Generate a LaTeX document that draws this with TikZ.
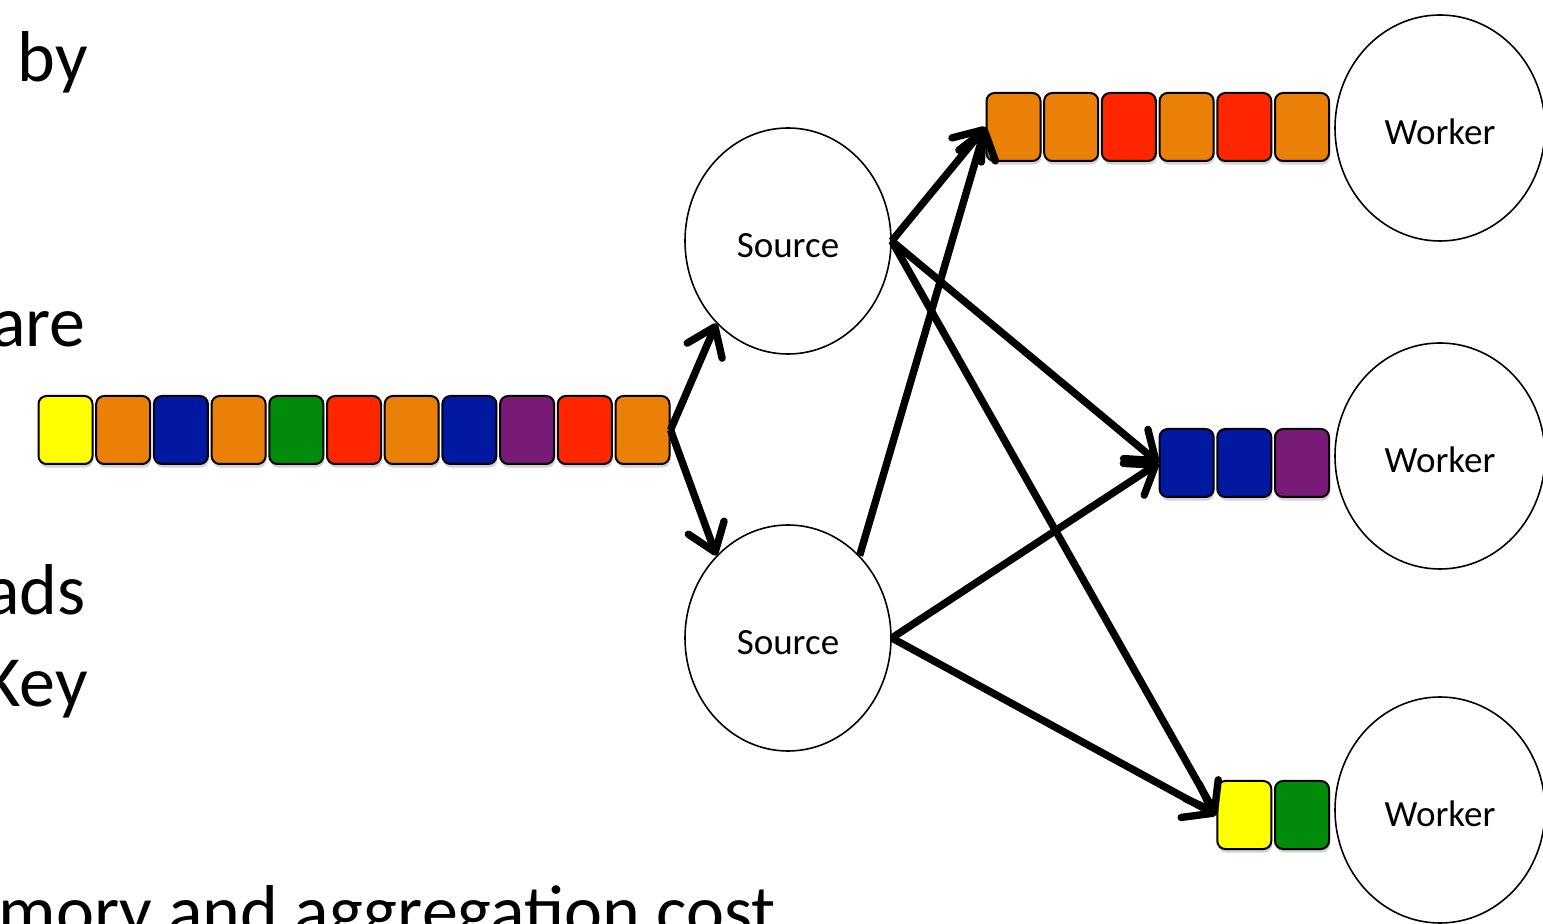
\documentclass[tikz,border=0pt]{standalone}
\usepackage{fontspec}
\setmainfont{Carlito}
\usepackage{tikz}
\usetikzlibrary{arrows.meta,shapes.geometric,shadows}

\definecolor{sqyellow}{HTML}{FFFF00}
\definecolor{sqorange}{HTML}{EA8008}
\definecolor{sqblue}{HTML}{0019A0}
\definecolor{sqgreen}{HTML}{008C0A}
\definecolor{sqred}{HTML}{FF2600}
\definecolor{sqpurple}{HTML}{791A77}

\begin{document}
\begin{tikzpicture}[x=0.5pt,y=-0.5pt,
	sq/.style={draw=black,line width=1pt,fill=#1,rounded corners=4pt,inner sep=0pt,
		minimum width=27pt,minimum height=34pt,
		drop shadow={shadow xshift=0.5pt,shadow yshift=-1.8pt,opacity=0.35}},
	proc/.style={shape=ellipse,draw=black,line width=0.8pt,inner sep=0pt,
		minimum width=103pt,minimum height=113pt,text height=16.5pt,text depth=0pt,
		font=\fontsize{18.5}{22}\selectfont},
	flow/.style={line width=3.7pt,-{Straight Barb[length=13pt,width=19pt,round]}},
	slide/.style={anchor=base east,inner sep=0pt,font=\fontsize{36}{40}\selectfont}]
	\clip (0,0) rectangle (1543,924);

	% bits of the slide text
	\node[slide] (t1) at (88, 82)   {by};
	\node[slide] (t2) at (86, 347)  {are};
	\node[slide] (t3) at (86, 615)  {ads};
	\node[slide] (t4) at (88, 707)  {Key};
	\node[slide] (t5) at (776, 935) {mory and aggregation cost};

	% incoming stream
	\node[sq=sqyellow] (in1)  at (65.5, 430)  {};
	\node[sq=sqorange] (in2)  at (123.2, 430) {};
	\node[sq=sqblue]   (in3)  at (180.9, 430) {};
	\node[sq=sqorange] (in4)  at (238.6, 430) {};
	\node[sq=sqgreen]  (in5)  at (296.3, 430) {};
	\node[sq=sqred]    (in6)  at (354.0, 430) {};
	\node[sq=sqorange] (in7)  at (411.7, 430) {};
	\node[sq=sqblue]   (in8)  at (469.4, 430) {};
	\node[sq=sqpurple] (in9)  at (527.1, 430) {};
	\node[sq=sqred]    (in10) at (584.8, 430) {};
	\node[sq=sqorange] (in11) at (642.5, 430) {};

	% sources
	\node[proc] (src1) at (788, 241) {Source};
	\node[proc] (src2) at (788, 638) {Source};

	% workers
	\node[proc,minimum width=105pt] (wrk1) at (1440, 128) {Worker};
	\node[proc,minimum width=105pt] (wrk2) at (1440, 456) {Worker};
	\node[proc,minimum width=105pt] (wrk3) at (1440, 810) {Worker};

	% worker queues
	\node[sq=sqorange] (qa1) at (1013.5, 127) {};
	\node[sq=sqorange] (qa2) at (1071.2, 127) {};
	\node[sq=sqred]    (qa3) at (1128.9, 127) {};
	\node[sq=sqorange] (qa4) at (1186.6, 127) {};
	\node[sq=sqred]    (qa5) at (1244.3, 127) {};
	\node[sq=sqorange] (qa6) at (1302.0, 127) {};

	\node[sq=sqblue]   (qb1) at (1186.6, 463) {};
	\node[sq=sqblue]   (qb2) at (1244.3, 463) {};
	\node[sq=sqpurple] (qb3) at (1302.0, 463) {};

	\node[sq=sqyellow] (qc1) at (1244.3, 815) {};
	\node[sq=sqgreen]  (qc2) at (1302.0, 815) {};

	\draw[flow] (in11.east) -- (src1.229);
	\draw[flow] (in11.east) -- (src2.131);

	\draw[flow] (src1.east) -- (qa1.west);
	\draw[flow] (src1.east) -- (qb1.west);
	\draw[flow] (src1.east) -- (qc1.west);
	\draw[flow] (src2.49)   -- (qa1.west);
	\draw[flow] (src2.east) -- (qb1.west);
	\draw[flow] (src2.east) -- (qc1.west);
\end{tikzpicture}
\end{document}
